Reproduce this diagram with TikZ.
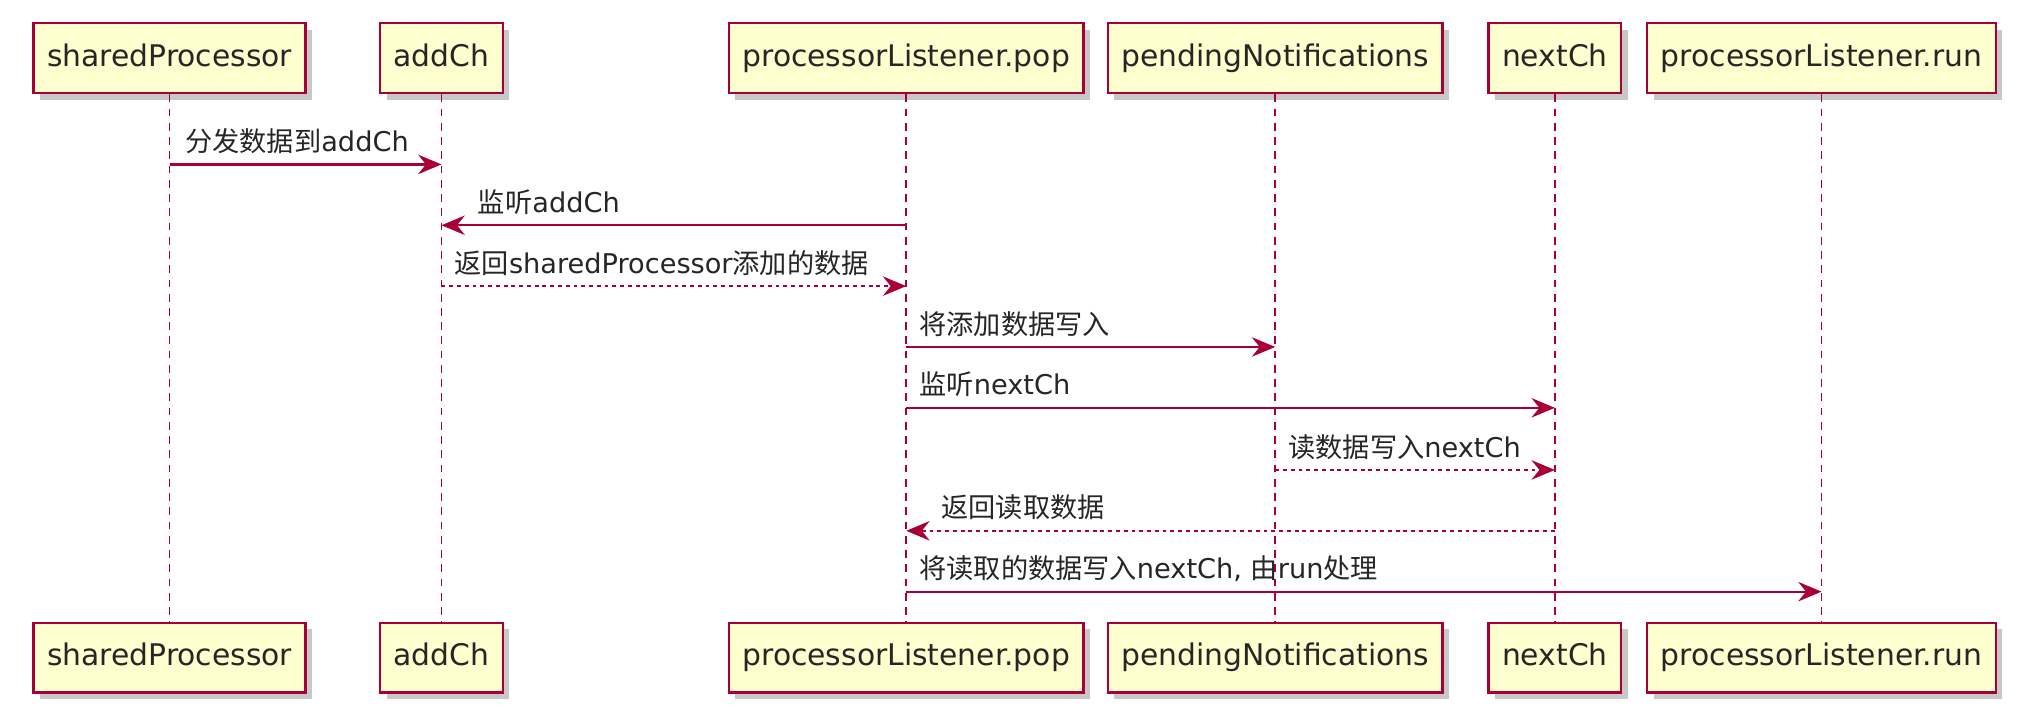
\documentclass[tikz,border=0pt]{standalone}
\usepackage{fontspec}
\setmainfont{DejaVu Sans}
\newfontfamily\cjk{Noto Sans CJK SC}
\usetikzlibrary{arrows.meta,shadows}
\definecolor{umlred}{HTML}{A80036}
\definecolor{umlbg}{HTML}{FEFECE}
\tikzset{
 part/.style={draw=umlred, fill=umlbg, line width=1.8pt, minimum height=54pt, inner xsep=10.5pt, inner ysep=0pt,
   text height=17pt, text depth=5pt,
   font=\fontsize{23}{23}\selectfont, text=black!85,
   drop shadow={shadow xshift=5pt, shadow yshift=-5pt, opacity=0.3, fill=black!70}},
 life/.style={draw=umlred, line width=1.3pt, dash pattern=on 6pt off 5pt},
 msg/.style={draw=umlred, line width=1.7pt, -{Stealth[length=18pt,width=15pt,inset=6pt]}},
 ret/.style={msg, dash pattern=on 3pt off 3pt},
 lbl/.style={font=\fontsize{21}{21}\selectfont, inner sep=0pt, anchor=base west, text=black!85},
}
\begin{document}
\begin{tikzpicture}[x=1pt,y=-1pt]
\useasboundingbox[fill=white] (0,0) rectangle (1568,561);
% participants top
\node[part] (t1) at (131,45) {sharedProcessor};
\node[part] (t2) at (341,45) {addCh};
\node[part] (t3) at (700,45) {processorListener.pop};
\node[part] (t4) at (985,45) {pendingNotifications};
\node[part] (t5) at (1201,45) {nextCh};
\node[part] (t6) at (1407,45) {processorListener.run};
% participants bottom
\node[part] (b1) at (131,508) {sharedProcessor};
\node[part] (b2) at (341,508) {addCh};
\node[part] (b3) at (700,508) {processorListener.pop};
\node[part] (b4) at (985,508) {pendingNotifications};
\node[part] (b5) at (1201,508) {nextCh};
\node[part] (b6) at (1407,508) {processorListener.run};
% lifelines
\foreach \i in {1,...,6} { \draw[life] (t\i.south) -- (b\i.north); }
% message end points
\coordinate (m1a) at (t1 |- 0,127); \coordinate (m1b) at (t2 |- 0,127);
\coordinate (m2a) at (t3 |- 0,174); \coordinate (m2b) at (t2 |- 0,174);
\coordinate (m3a) at (t2 |- 0,221); \coordinate (m3b) at (t3 |- 0,221);
\coordinate (m4a) at (t3 |- 0,268); \coordinate (m4b) at (t4 |- 0,268);
\coordinate (m5a) at (t3 |- 0,315); \coordinate (m5b) at (t5 |- 0,315);
\coordinate (m6a) at (t4 |- 0,363); \coordinate (m6b) at (t5 |- 0,363);
\coordinate (m7a) at (t5 |- 0,410); \coordinate (m7b) at (t3 |- 0,410);
\coordinate (m8a) at (t3 |- 0,457); \coordinate (m8b) at (t6 |- 0,457);
% messages
\draw[msg] (m1a) -- (m1b);
\draw[msg] (m2a) -- (m2b);
\draw[ret] (m3a) -- (m3b);
\draw[msg] (m4a) -- (m4b);
\draw[msg] (m5a) -- (m5b);
\draw[ret] (m6a) -- (m6b);
\draw[ret] (m7a) -- (m7b);
\draw[msg] (m8a) -- (m8b);
% labels
\node[lbl] (l1) at ([xshift=12pt,yshift=10pt]m1a) {{\cjk 分发数据到}addCh};
\node[lbl] (l2) at ([xshift=28pt,yshift=10pt]m2b) {{\cjk 监听}addCh};
\node[lbl] (l3) at ([xshift=10pt,yshift=10pt]m3a) {{\cjk 返回}sharedProcessor{\cjk 添加的数据}};
\node[lbl] (l4) at ([xshift=10pt,yshift=10pt]m4a) {{\cjk 将添加数据写入}};
\node[lbl] (l5) at ([xshift=10pt,yshift=10pt]m5a) {{\cjk 监听}nextCh};
\node[lbl] (l6) at ([xshift=10pt,yshift=10pt]m6a) {{\cjk 读数据写入}nextCh};
\node[lbl] (l7) at ([xshift=27pt,yshift=10pt]m7b) {{\cjk 返回读取数据}};
\node[lbl] (l8) at ([xshift=10pt,yshift=10pt]m8a) {{\cjk 将读取的数据写入}nextCh, {\cjk 由}run{\cjk 处理}};
\end{tikzpicture}
\end{document}
